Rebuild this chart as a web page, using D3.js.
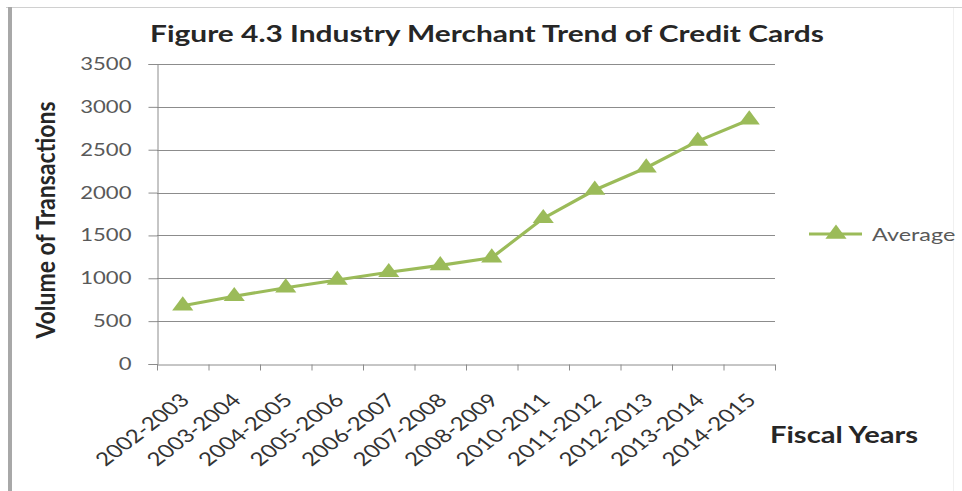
<!DOCTYPE html>
<html>
<head>
<meta charset="utf-8">
<script src="https://cdn.jsdelivr.net/npm/d3@7"></script>
<style>
  html, body { margin: 0; padding: 0; background: #fff; }
  svg { display: block; }
</style>
</head>
<body>
<svg id="chart" width="962" height="491"></svg>
<script>
// --- Daten ---
const years = ["2002-2003", "2003-2004", "2004-2005", "2005-2006", "2006-2007", "2007-2008",
               "2008-2009", "2010-2011", "2011-2012", "2012-2013", "2013-2014", "2014-2015"];
const average = [680, 790, 890, 980, 1070, 1150, 1240, 1700, 2030, 2290, 2600, 2850];
const yTicks = [0, 500, 1000, 1500, 2000, 2500, 3000, 3500];

const width = 962, height = 491;
const plot = { left: 157, right: 775, top: 64, bottom: 364 };
const green = "#9bbb59";
const font = "Lato, 'Open Sans', sans-serif";
const stretch = 1.3; // Vorlage ist horizontal gestreckt

const svg = d3.select("#chart");

// --- Rahmen ---
svg.append("line").attr("x1", 6).attr("x2", 962).attr("y1", 7.5).attr("y2", 7.5)
  .attr("stroke", "#d0d0d0").attr("stroke-width", 1);
svg.append("line").attr("x1", 10).attr("x2", 10).attr("y1", 7).attr("y2", 491)
  .attr("stroke", "#a8a8a8").attr("stroke-width", 4);
svg.append("line").attr("x1", 953.5).attr("x2", 953.5).attr("y1", 8).attr("y2", 491)
  .attr("stroke", "#f0f0f0").attr("stroke-width", 1);

// --- Skalen ---
const x = d3.scaleBand().domain(years).range([plot.left, plot.right]);
const y = d3.scaleLinear().domain([0, 3500]).range([plot.bottom, plot.top]);

// --- Gitterlinien ---
svg.append("g")
  .selectAll("line")
  .data(yTicks.slice(1))
  .join("line")
  .attr("x1", plot.left).attr("x2", plot.right)
  .attr("y1", d => Math.round(y(d)) + 0.5).attr("y2", d => Math.round(y(d)) + 0.5)
  .attr("stroke", "#8c8c8c").attr("stroke-width", 1);

// --- Y-Achse ---
const yAxis = svg.append("g")
  .attr("transform", `translate(${plot.left + 0.5},0)`)
  .call(d3.axisLeft(y).tickValues(yTicks).tickSize(9).tickFormat(d3.format("d")));
yAxis.select(".domain").attr("stroke", "#8c8c8c");
yAxis.selectAll(".tick line").attr("stroke", "#8c8c8c");
yAxis.selectAll(".tick text")
  .attr("x", 0)
  .attr("transform", `translate(${131 - plot.left},0) scale(${stretch},1)`)
  .attr("font-family", font).attr("font-size", 17).attr("fill", "#595959");

// --- X-Achse ---
const xAxis = svg.append("g")
  .attr("transform", `translate(0,${plot.bottom + 0.5})`)
  .call(d3.axisBottom(x).tickSize(0).tickFormat(d => d));
xAxis.select(".domain").attr("stroke", "#8c8c8c");
// Teilstriche an den Kategoriegrenzen
xAxis.append("g")
  .selectAll("line")
  .data(years.map(d => x(d)).concat([plot.right]))
  .join("line")
  .attr("x1", d => d + 0.5).attr("x2", d => d + 0.5)
  .attr("y1", 0).attr("y2", 6)
  .attr("stroke", "#8c8c8c");
xAxis.selectAll(".tick text")
  .attr("font-family", font).attr("font-size", 18.5).attr("fill", "#333")
  .attr("text-anchor", "end")
  .attr("y", 0).attr("dy", 0)
  .attr("transform", `translate(8,37) scale(${stretch},1) rotate(-45)`);

// --- Linie ---
const cx = d => x(d) + x.bandwidth() / 2;
svg.append("path")
  .datum(years.map((d, i) => [cx(d), y(average[i])]))
  .attr("d", d3.line())
  .attr("fill", "none")
  .attr("stroke", green)
  .attr("stroke-width", 3.2)
  .attr("stroke-linejoin", "round");

// --- Dreiecksmarker ---
const tri = d3.symbol().type(d3.symbolTriangle).size(115);
svg.append("g")
  .selectAll("path")
  .data(years)
  .join("path")
  .attr("d", tri)
  .attr("transform", (d, i) => `translate(${cx(d)},${y(average[i])}) scale(${stretch},1)`)
  .attr("fill", green);

// --- Titel & Achsentitel ---
svg.append("text")
  .attr("transform", `translate(487,42) scale(${stretch},1)`)
  .attr("text-anchor", "middle")
  .attr("font-family", font).attr("font-weight", "bold").attr("font-size", 23)
  .attr("fill", "#262626")
  .text("Figure 4.3 Industry Merchant Trend of Credit Cards");

svg.append("text")
  .attr("transform", `translate(55,220) scale(1.12,1) rotate(-90)`)
  .attr("text-anchor", "middle")
  .attr("font-family", font).attr("font-weight", "bold").attr("font-size", 23)
  .attr("fill", "#262626")
  .text("Volume of Transactions");

svg.append("text")
  .attr("transform", `translate(770,443) scale(${stretch},1)`)
  .attr("font-family", font).attr("font-weight", "bold").attr("font-size", 22.4)
  .attr("fill", "#262626")
  .text("Fiscal Years");

// --- Legende ---
const legend = svg.append("g").attr("transform", "translate(809,234)");
legend.append("line").attr("x1", 0).attr("x2", 53).attr("y1", 0).attr("y2", 0)
  .attr("stroke", green).attr("stroke-width", 3.2);
legend.append("path").attr("d", tri).attr("transform", `translate(27,0) scale(${stretch},1)`).attr("fill", green);
legend.append("text").attr("transform", `translate(63,7) scale(${stretch},1)`)
  .attr("font-family", font).attr("font-size", 18).attr("fill", "#595959")
  .text("Average");
</script>
</body>
</html>
